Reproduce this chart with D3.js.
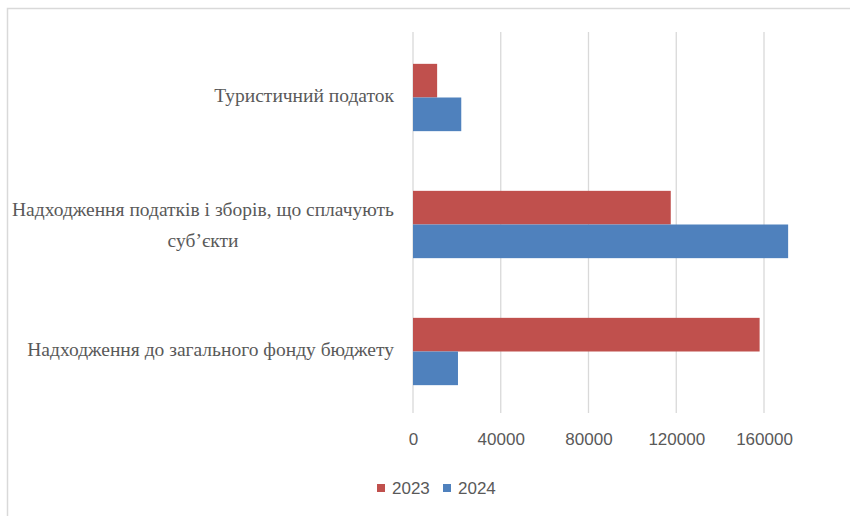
<!DOCTYPE html>
<html>
<head>
<meta charset="utf-8">
<script src="https://cdn.jsdelivr.net/npm/d3@7"></script>
<style>
    body { margin: 0; background: #fff; }
    svg { display: block; }
</style>
</head>
<body>
<svg id="chart"></svg>
<script>
// categories top to bottom, as drawn
let categories = [
    "Туристичний податок",
    "Надходження податків і зборів, що сплачують|суб’єкти",
    "Надходження до загального фонду бюджету"
]
let series = ["2023", "2024"]
let values2023 = [11000, 117500, 158000]
let values2024 = [22000, 171000, 20500]
let ticks = [0, 40000, 80000, 120000, 160000]
let colors = ["#c0504d", "#4f81bd"]

let width = 850, height = 516
let margin = {top: 32, right: 60, bottom: 103, left: 413}

const svg = d3.select("#chart")
    .attr("width", width)
    .attr("height", height)

// chart frame (only top/left visible in the crop)
svg.append("rect")
    .attr("x", 7.5).attr("y", 8.5)
    .attr("width", width + 20).attr("height", height + 20)
    .attr("fill", "none")
    .attr("stroke", "#d9d9d9")
    .attr("stroke-width", 1.5)

let x = d3.scaleLinear()
    .domain([0, 160000])
    .range([margin.left, 764])

let y = d3.scaleBand()
    .domain(d3.range(categories.length))
    .range([margin.top + 2, height - margin.bottom + 2])
    .paddingInner(0.47)
    .paddingOuter(0.235)

let ySub = d3.scaleBand()
    .domain(series)
    .range([0, y.bandwidth()])

// gridlines
svg.append("g")
    .selectAll("line")
    .data(ticks)
    .join("line")
    .attr("x1", d => x(d)).attr("x2", d => x(d))
    .attr("y1", margin.top).attr("y2", height - margin.bottom)
    .attr("stroke", "#d9d9d9")
    .attr("stroke-width", 1.3)

// bars
let rows = categories.map((c, i) => [
    {i: i, s: "2023", v: values2023[i]},
    {i: i, s: "2024", v: values2024[i]}
]).flat()

svg.append("g")
    .selectAll("rect")
    .data(rows)
    .join("rect")
    .attr("x", x(0))
    .attr("y", d => y(d.i) + ySub(d.s))
    .attr("width", d => x(d.v) - x(0))
    .attr("height", ySub.bandwidth())
    .attr("fill", d => colors[series.indexOf(d.s)])

// x axis
let xAxis = g => g
    .attr("transform", `translate(0,${height - margin.bottom})`)
    .call(d3.axisBottom(x).tickValues(ticks).tickSize(0).tickPadding(20).tickFormat(d3.format("d")))
    .call(g => g.select(".domain").remove())
    .call(g => g.selectAll(".tick text")
        .attr("fill", "#595959")
        .attr("font-family", "Liberation Sans, Arial, sans-serif")
        .attr("font-size", 17))
svg.append("g").call(xAxis)

// category labels, right aligned block, lines centred within it
let labelX = 394
let labels = svg.append("g")
    .attr("font-family", "Liberation Serif, Times New Roman, serif")
    .attr("font-size", 19.5)
    .attr("fill", "#595959")

categories.forEach((c, i) => {
    let lines = c.split("|")
    let lh = 31
    let cy = y(i) + y.bandwidth() / 2 - (lines.length > 1 ? 0 : 2)
    let t = labels.append("text")
        .attr("text-anchor", "middle")
    lines.forEach((ln, k) => {
        t.append("tspan")
            .attr("y", cy + (k - (lines.length - 1) / 2) * lh)
            .attr("dy", "0.35em")
            .text(ln)
    })
    let w = d3.max(t.selectAll("tspan").nodes(), n => n.getComputedTextLength())
    t.selectAll("tspan").attr("x", labelX - w / 2)
})

// legend
let legend = svg.append("g")
    .attr("font-family", "Liberation Sans, Arial, sans-serif")
    .attr("font-size", 17)
    .attr("fill", "#595959")
let lx = [377, 443]
series.forEach((s, i) => {
    legend.append("rect")
        .attr("x", lx[i]).attr("y", 484)
        .attr("width", 8).attr("height", 8)
        .attr("fill", colors[i])
    legend.append("text")
        .attr("x", lx[i] + 15).attr("y", 488)
        .attr("dy", "0.35em")
        .text(s)
})
</script>
</body>
</html>
